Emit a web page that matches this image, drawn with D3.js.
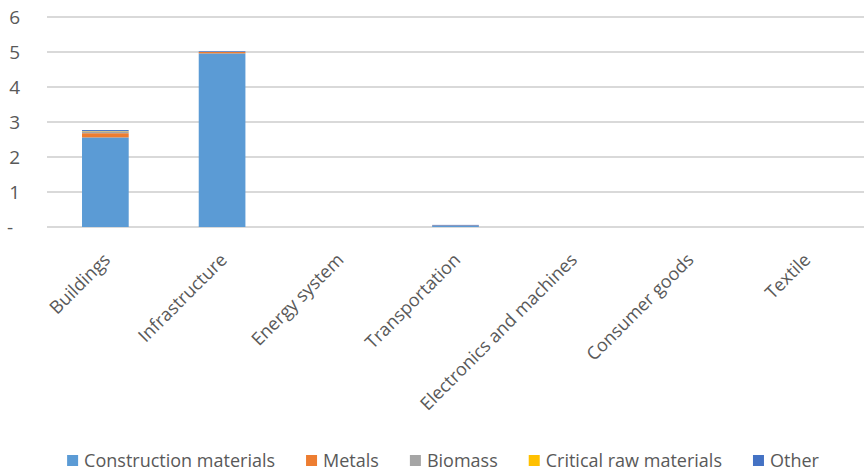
<!DOCTYPE html>
<html>
<head>
<meta charset="utf-8">
<script src="https://cdn.jsdelivr.net/npm/d3@7"></script>
<style>
  body { margin: 0; background: #fff; }
  text { font-family: "Open Sans", "Noto Sans", sans-serif; fill: #595959; }
</style>
</head>
<body>
<div id="chart"></div>
<script>
// categories and stacked series
const categories = ["Buildings", "Infrastructure", "Energy system", "Transportation",
  "Electronics and machines", "Consumer goods", "Textile"];
const seriesNames = ["Construction materials", "Metals", "Biomass", "Critical raw materials", "Other"];
const colors = ["#5B9BD5", "#ED7D31", "#A5A5A5", "#FFC000", "#4472C4"];

const constructionMaterials = [2.56, 4.96, 0, 0.03, 0, 0, 0];
const metals = [0.12, 0.04, 0, 0.01, 0, 0, 0];
const biomass = [0.05, 0, 0, 0, 0, 0, 0];
const criticalRawMaterials = [0.01, 0, 0, 0, 0, 0, 0];
const other = [0.03, 0.02, 0, 0.02, 0, 0, 0];
const yTicks = [0, 1, 2, 3, 4, 5, 6];

const width = 864, height = 471;
const margin = { top: 17, right: 0, bottom: 244, left: 47 };
const innerW = width - margin.left - margin.right;
const innerH = height - margin.top - margin.bottom;

const svg = d3.select("#chart").append("svg")
    .attr("width", width)
    .attr("height", height);

const g = svg.append("g")
    .attr("transform", "translate(" + margin.left + "," + margin.top + ")");

const xScale = d3.scaleBand()
    .domain(categories)
    .range([0, innerW])
    .paddingInner(0.6)
    .paddingOuter(0.3);

const yScale = d3.scaleLinear()
    .domain([0, 6])
    .range([innerH, 0]);

// build table for stacking
const allSeries = [constructionMaterials, metals, biomass, criticalRawMaterials, other];
const table = categories.map((c, i) => {
  let row = { category: c };
  seriesNames.forEach((s, j) => row[s] = allSeries[j][i]);
  return row;
});
const stacked = d3.stack().keys(seriesNames)(table);

// gridlines
g.append("g")
    .selectAll("line")
    .data(yTicks)
    .join("line")
    .attr("x1", 0)
    .attr("x2", innerW)
    .attr("y1", d => yScale(d))
    .attr("y2", d => yScale(d))
    .attr("stroke", "#D9D9D9")
    .attr("stroke-width", 2);

// y axis labels
const yAxis = d3.axisLeft(yScale)
    .tickValues(yTicks)
    .tickSize(0)
    .tickPadding(27)
    .tickFormat(d => d === 0 ? "-" : d);

const yAxisGroup = g.append("g").call(yAxis);
yAxisGroup.select(".domain").remove();
yAxisGroup.selectAll("text")
    .attr("font-size", 19)
    .attr("font-family", "Open Sans, sans-serif")
    .attr("fill", "#595959");
yAxisGroup.selectAll(".tick")
    .filter(d => d === 0)
    .select("text")
    .attr("x", -34);

// bars
g.append("g")
    .selectAll("g")
    .data(stacked)
    .join("g")
    .attr("fill", (d, i) => colors[i])
    .selectAll("rect")
    .data(d => d)
    .join("rect")
    .attr("x", d => xScale(d.data.category))
    .attr("width", xScale.bandwidth())
    .attr("y", d => yScale(d[1]))
    .attr("height", d => yScale(d[0]) - yScale(d[1]));

// category labels, rotated
g.append("g")
    .selectAll("text")
    .data(categories)
    .join("text")
    .attr("transform", d => "translate(" + (xScale(d) + xScale.bandwidth() / 2 + 6) + "," + (innerH + 34) + ") rotate(-45)")
    .attr("text-anchor", "end")
    .attr("font-size", 18)
    .text(d => d);

// legend
const legend = svg.append("g");
const items = legend.selectAll("g")
    .data(seriesNames)
    .join("g");

items.append("rect")
    .attr("width", 11)
    .attr("height", 11)
    .attr("y", -12)
    .attr("fill", (d, i) => colors[i]);

items.append("text")
    .attr("x", 17)
    .attr("y", 0)
    .attr("font-size", 18)
    .text(d => d);

let offset = 0;
const gap = 31;
items.each(function() {
  const w = 17 + d3.select(this).select("text").node().getComputedTextLength();
  d3.select(this).attr("transform", "translate(" + offset + ",0)");
  offset += w + gap;
});
const totalW = offset - gap;
legend.attr("transform", "translate(" + (443 - totalW / 2) + ",467)");
</script>
</body>
</html>
